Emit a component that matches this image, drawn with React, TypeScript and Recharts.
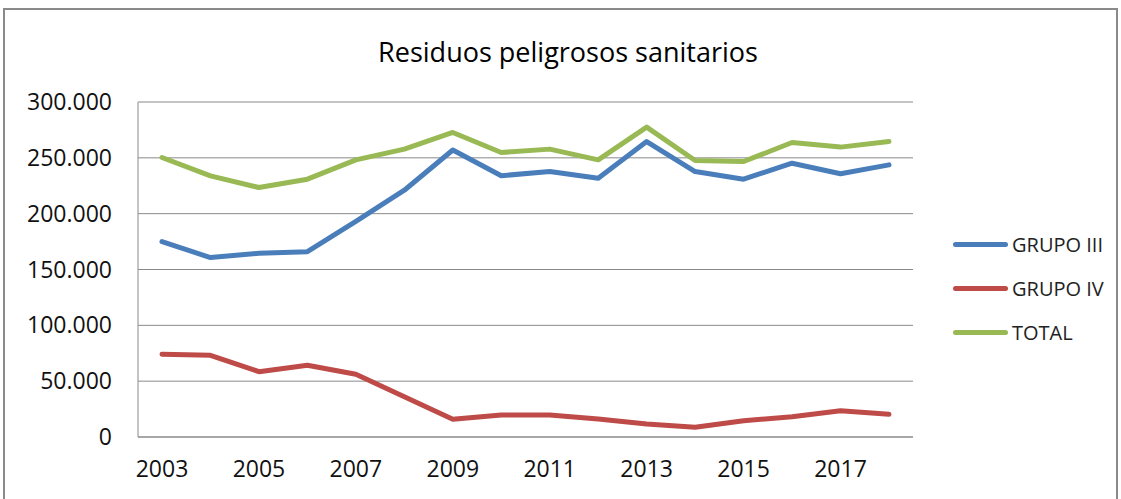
import React from 'react';
import {
  LineChart,
  Line,
  XAxis,
  YAxis,
  CartesianGrid,
} from 'recharts';

// Datos
const years = [
  '2003', '2004', '2005', '2006', '2007', '2008', '2009', '2010',
  '2011', '2012', '2013', '2014', '2015', '2016', '2017', '2018',
];
const grupoIII = [
  175000, 160700, 164600, 166000, 193000, 221000, 257000, 234000,
  237700, 231800, 264600, 237700, 230900, 245200, 235700, 243700,
];
const grupoIV = [
  74100, 73200, 58500, 64200, 56200, 36100, 15800, 19700,
  19700, 16100, 11600, 8700, 14600, 18200, 23600, 20300,
];
const total = [
  250300, 233900, 223400, 230900, 248200, 257800, 272700, 254800,
  257800, 248200, 277500, 247600, 246700, 263700, 259600, 264600,
];
const yTicks = [0, 50000, 100000, 150000, 200000, 250000, 300000];

const seriesNames = ['GRUPO III', 'GRUPO IV', 'TOTAL'];
const seriesColors = ['#4a7ebb', '#be4b48', '#98b954'];

const chartData = years.map((year, i) => ({
  year,
  g3: grupoIII[i],
  g4: grupoIV[i],
  total: total[i],
}));

const FONT = '"Open Sans", "Liberation Sans", sans-serif';

const fmt = (v: number) =>
  v === 0 ? '0' : String(v).replace(/\B(?=(\d{3})+(?!\d))/g, '.');

export default function App() {
  return (
    <div
      style={{
        position: 'absolute',
        left: 0,
        top: 0,
        width: 1121,
        height: 499,
        overflow: 'hidden',
        background: '#fff',
      }}
    >
      <div
        style={{
          position: 'absolute',
          left: 3,
          top: 8,
          width: 1115,
          height: 560,
          border: '2px solid #8a8a8a',
          boxSizing: 'border-box',
        }}
      />
      <div
        style={{
          position: 'absolute',
          left: 0,
          width: 1136,
          top: 33,
          textAlign: 'center',
          fontFamily: FONT,
          fontSize: 27,
          color: '#000',
        }}
      >
        Residuos peligrosos sanitarios
      </div>
      <div style={{ position: 'absolute', left: 0, top: 0 }}>
        <LineChart
          width={1121}
          height={499}
          data={chartData}
          margin={{ top: 102, right: 208, bottom: 0, left: 0 }}
        >
          <CartesianGrid vertical={false} stroke="#8a8a8a" />
          <XAxis
            dataKey="year"
            height={62}
            interval={1}
            padding={{ left: 24, right: 24 }}
            tickLine={false}
            tickSize={0}
            tickMargin={24}
            axisLine={{ stroke: '#8a8a8a' }}
            tick={{ fill: '#111', fontSize: 23, fontFamily: FONT }}
          />
          <YAxis
            width={138}
            domain={[0, 300000]}
            ticks={yTicks}
            tickFormatter={fmt}
            tickLine={false}
            tickSize={0}
            tickMargin={26}
            axisLine={{ stroke: '#8a8a8a' }}
            tick={{ fill: '#111', fontSize: 23, fontFamily: FONT }}
          />
          <Line
            dataKey="g3"
            name={seriesNames[0]}
            stroke={seriesColors[0]}
            strokeWidth={5}
            strokeLinecap="round"
            strokeLinejoin="round"
            dot={false}
            isAnimationActive={false}
          />
          <Line
            dataKey="g4"
            name={seriesNames[1]}
            stroke={seriesColors[1]}
            strokeWidth={5}
            strokeLinecap="round"
            strokeLinejoin="round"
            dot={false}
            isAnimationActive={false}
          />
          <Line
            dataKey="total"
            name={seriesNames[2]}
            stroke={seriesColors[2]}
            strokeWidth={5}
            strokeLinecap="round"
            strokeLinejoin="round"
            dot={false}
            isAnimationActive={false}
          />
        </LineChart>
      </div>
      <div
        style={{
          position: 'absolute',
          left: 953,
          top: 222,
          width: 165,
          fontFamily: FONT,
        }}
      >
        {seriesNames.map((name, i) => (
          <div
            key={name}
            style={{ display: 'flex', alignItems: 'center', height: 44 }}
          >
            <div
              style={{
                width: 55,
                height: 5,
                borderRadius: 3,
                background: seriesColors[i],
                marginRight: 4,
              }}
            />
            <span style={{ fontSize: 20, color: '#222' }}>{name}</span>
          </div>
        ))}
      </div>
    </div>
  );
}
